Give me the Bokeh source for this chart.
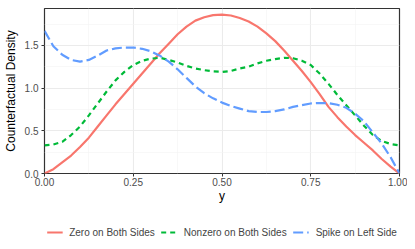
from bokeh.plotting import figure
from bokeh.layouts import column
from bokeh.models import Range1d, FixedTicker, Legend, LegendItem, NumeralTickFormatter
from bokeh.embed import file_html
from bokeh.resources import INLINE

y_grid = [i * 0.025 for i in range(41)]

zero_both = [0.00, 0.05, 0.13, 0.21, 0.31, 0.42, 0.55, 0.68, 0.81, 0.93,
             1.05, 1.17, 1.29, 1.41, 1.52, 1.63, 1.72, 1.79, 1.83, 1.855,
             1.86, 1.85, 1.82, 1.78, 1.72, 1.64, 1.55, 1.44, 1.32, 1.20,
             1.07, 0.93, 0.78, 0.66, 0.55, 0.45, 0.36, 0.27, 0.17, 0.08, 0.00]

nonzero_both = [0.33, 0.34, 0.37, 0.45, 0.55, 0.68, 0.82, 0.96, 1.09, 1.19,
                1.27, 1.32, 1.345, 1.355, 1.33, 1.30, 1.26, 1.23, 1.21, 1.195,
                1.19, 1.20, 1.23, 1.25, 1.29, 1.32, 1.34, 1.355, 1.35, 1.32,
                1.27, 1.17, 1.05, 0.92, 0.80, 0.68, 0.56, 0.45, 0.38, 0.345, 0.33]

spike_left = [1.67, 1.49, 1.39, 1.33, 1.31, 1.33, 1.38, 1.44, 1.465, 1.475,
              1.475, 1.46, 1.43, 1.38, 1.31, 1.22, 1.12, 1.02, 0.94, 0.88,
              0.83, 0.79, 0.76, 0.73, 0.72, 0.72, 0.73, 0.75, 0.78, 0.80,
              0.82, 0.825, 0.825, 0.805, 0.77, 0.70, 0.61, 0.48, 0.35, 0.19, 0.00]

series_names = ["Zero on Both Sides", "Nonzero on Both Sides", "Spike on Left Side"]
colors = ["#F8766D", "#00BA38", "#619CFF"]
dashes = ["solid", "5 4", "10 4"]

x_ticks = [0.0, 0.25, 0.5, 0.75, 1.0]
y_ticks = [0.0, 0.5, 1.0, 1.5]

FONT = "Liberation Sans"
series = [zero_both, nonzero_both, spike_left]

# ---- main plot ----
p = figure(frame_width=355, frame_height=165,
           x_range=Range1d(0, 1), y_range=Range1d(0, 1.932),
           output_backend="svg", toolbar_location=None,
           min_border_left=36, min_border_top=8, min_border_right=8,
           min_border_bottom=44)

p.background_fill_color = "white"
p.border_fill_color = "white"
p.outline_line_color = "#333333"
p.outline_line_width = 1.2

for grid in (p.xgrid, p.ygrid):
    grid.grid_line_color = "#EBEBEB"
    grid.grid_line_width = 1.1
    grid.minor_grid_line_color = "#F4F4F4"
    grid.minor_grid_line_width = 0.6

p.xaxis.ticker = FixedTicker(ticks=x_ticks, minor_ticks=[0.125, 0.375, 0.625, 0.875])
p.yaxis.ticker = FixedTicker(ticks=y_ticks, minor_ticks=[0.25, 0.75, 1.25, 1.75])
p.xaxis.formatter = NumeralTickFormatter(format="0.00")
p.yaxis.formatter = NumeralTickFormatter(format="0.0")

for ax in (p.xaxis, p.yaxis):
    ax.axis_line_color = None
    ax.major_tick_line_color = "#333333"
    ax.major_tick_out = 3
    ax.major_tick_in = 0
    ax.minor_tick_line_color = None
    ax.major_label_text_font = FONT
    ax.major_label_text_font_size = "10px"
    ax.major_label_text_color = "#4D4D4D"
    ax.axis_label_text_font = FONT
    ax.axis_label_text_font_size = "12px"
    ax.axis_label_text_font_style = "normal"
    ax.axis_label_text_color = "black"

p.xaxis.axis_label = "y"
p.yaxis.axis_label = "Counterfactual Density"
p.xaxis.major_label_standoff = 0
p.yaxis.major_label_standoff = 2
p.xaxis.axis_label_standoff = 0
p.yaxis.axis_label_standoff = 4

for vals, col, dash in zip(series, colors, dashes):
    p.line(y_grid, vals, line_color=col, line_width=2.2, line_dash=dash)

# ---- legend strip (frame aligned with the main plot) ----
lg = figure(frame_width=355, frame_height=30, x_range=Range1d(0, 1), y_range=Range1d(0, 1.932),
            output_backend="svg", toolbar_location=None,
            x_axis_location=None, y_axis_location=None,
            min_border_left=36, min_border_right=8, min_border_top=0, min_border_bottom=0)
lg.outline_line_color = None
lg.xgrid.visible = False
lg.ygrid.visible = False
lg.background_fill_color = "white"
lg.border_fill_color = "white"

items = []
for name, vals, col, dash in zip(series_names, series, colors, dashes):
    r = lg.line(y_grid, vals, line_color=col, line_width=2.2, line_dash=dash, visible=False)
    items.append(LegendItem(label=name, renderers=[r]))

legend = Legend(items=items, orientation="horizontal", location="center")
legend.label_text_font = FONT
legend.label_text_font_size = "10px"
legend.glyph_width = 16
legend.glyph_height = 12
legend.label_height = 12
legend.label_standoff = 7
legend.spacing = 6
legend.border_line_color = None
legend.background_fill_alpha = 0
legend.inactive_fill_alpha = 0
legend.margin = 0
legend.padding = 0
lg.add_layout(legend, "center")

layout = column(p, lg, spacing=0)
open("out.html", "w").write(file_html(layout, INLINE))
